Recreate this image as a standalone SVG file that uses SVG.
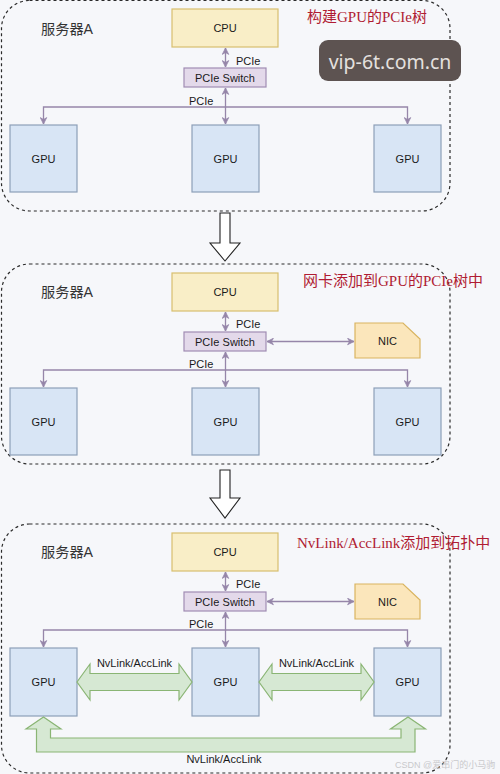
<svg xmlns="http://www.w3.org/2000/svg" width="500" height="774" viewBox="0 0 500 774">
<style>
.panel{fill:none;stroke:#2b2b2b;stroke-width:1.2;stroke-dasharray:3 3}
.cpu{fill:#f9eec7;stroke:#d8bf6e;stroke-width:1.2}
.sw{fill:#e3d9ea;stroke:#a08cb3;stroke-width:1.2}
.gpu{fill:#d8e5f5;stroke:#8d9fb8;stroke-width:1.2}
.nic{fill:#fbe6bb;stroke:#d9b460;stroke-width:1.2}
.t{font-family:"Liberation Sans",Arial,sans-serif;font-size:11px;fill:#1a1a1a}
.tc{text-anchor:middle}
.srv{font-family:"Liberation Sans","Noto Sans CJK SC",sans-serif;font-size:14.2px;fill:#333}
.title{font-family:"Liberation Serif","Noto Sans CJK SC",serif;font-size:15px;fill:#b01c33}
.conn{fill:none;stroke:#9686a9;stroke-width:1.3}
.nv{fill:#d6e8d3;stroke:#8ab574;stroke-width:1.2}
.big{fill:#ffffff;stroke:#222;stroke-width:1.1}
</style>
<defs>
<marker id="ah" viewBox="0 0 10 10" refX="9" refY="5" markerWidth="8" markerHeight="8" orient="auto-start-reverse" markerUnits="userSpaceOnUse">
<path d="M1,1 L9,5 L1,9 L3.5,5 Z" fill="#9686a9" stroke="#9686a9" stroke-width="1"/>
</marker>
</defs>
<rect width="500" height="774" fill="#f6f7fa"/>

<!-- Panel 1 -->
<g id="panel1">
<rect class="panel" x="1.5" y="0.5" width="448.5" height="210.5" rx="28"/>
<text class="srv" x="41" y="34">服务器A</text>
<text class="title" x="307" y="22">构建GPU的PCIe树</text>
</g>
<g id="p1-cpu"><rect class="cpu" x="172" y="9" width="106" height="38"/><text class="t tc" x="225" y="32">CPU</text></g>
<g id="p1-switch"><rect class="sw" x="184" y="68" width="82" height="19"/><text class="t tc" x="225" y="81.5" font-size="11.5">PCIe Switch</text></g>
<g id="p1-gpu1"><rect class="gpu" x="10" y="125" width="67" height="67"/><text class="t tc" x="43.5" y="162.5">GPU</text></g>
<g id="p1-gpu2"><rect class="gpu" x="192" y="125" width="67" height="67"/><text class="t tc" x="225.5" y="162.5">GPU</text></g>
<g id="p1-gpu3"><rect class="gpu" x="374" y="125" width="67" height="67"/><text class="t tc" x="407.5" y="162.5">GPU</text></g>
<g id="p1-connectors">
<line class="conn" x1="225.5" y1="48" x2="225.5" y2="67" marker-start="url(#ah)" marker-end="url(#ah)"/>
<path class="conn" d="M43.5,124 V107 H407.5 V124" marker-start="url(#ah)" marker-end="url(#ah)"/>
<line class="conn" x1="225.5" y1="88" x2="225.5" y2="124" marker-start="url(#ah)" marker-end="url(#ah)"/>
<text class="t" x="236" y="65">PCIe</text>
<text class="t" x="189" y="105">PCIe</text>
</g>
<g id="watermark">
<rect x="319" y="40" width="142" height="41" rx="9" fill="#5d5351"/>
<text x="390" y="69" text-anchor="middle" font-family="'Noto Sans','Open Sans',sans-serif" font-size="19.5" fill="#e4e0df">vip-6t.com.cn</text>
</g>

<!-- Arrow 1 -->
<g id="step-arrow1"><path class="big" d="M220,213 H230 V243 H240 L225,261 L210,243 H220 Z"/></g>

<!-- Panel 2 -->
<g id="panel2">
<rect class="panel" x="1.5" y="264" width="448.5" height="200" rx="28"/>
<text class="srv" x="41" y="297">服务器A</text>
<text class="title" x="303" y="286">网卡添加到GPU的PCIe树中</text>
</g>
<g id="p2-cpu"><rect class="cpu" x="172" y="273" width="106" height="38"/><text class="t tc" x="225" y="296">CPU</text></g>
<g id="p2-switch"><rect class="sw" x="184" y="332" width="82" height="19"/><text class="t tc" x="225" y="345.5" font-size="11.5">PCIe Switch</text></g>
<g id="p2-nic"><path class="nic" d="M355,323 H403 L420,339 V358 H355 Z"/><text class="t tc" x="387.5" y="345">NIC</text></g>
<g id="p2-gpu1"><rect class="gpu" x="10" y="388" width="67" height="67"/><text class="t tc" x="43.5" y="425.5">GPU</text></g>
<g id="p2-gpu2"><rect class="gpu" x="192" y="388" width="67" height="67"/><text class="t tc" x="225.5" y="425.5">GPU</text></g>
<g id="p2-gpu3"><rect class="gpu" x="374" y="388" width="67" height="67"/><text class="t tc" x="407.5" y="425.5">GPU</text></g>
<g id="p2-connectors">
<line class="conn" x1="225.5" y1="312" x2="225.5" y2="331" marker-start="url(#ah)" marker-end="url(#ah)"/>
<line class="conn" x1="267" y1="341.5" x2="354" y2="341.5" marker-start="url(#ah)" marker-end="url(#ah)"/>
<path class="conn" d="M43.5,387 V370 H407.5 V387" marker-start="url(#ah)" marker-end="url(#ah)"/>
<line class="conn" x1="225.5" y1="352" x2="225.5" y2="387" marker-start="url(#ah)" marker-end="url(#ah)"/>
<text class="t" x="236" y="328">PCIe</text>
<text class="t" x="189" y="368">PCIe</text>
</g>

<!-- Arrow 2 -->
<g id="step-arrow2"><path class="big" d="M220,470 H230 V498 H240 L225,518 L210,498 H220 Z"/></g>

<!-- Panel 3 -->
<g id="panel3">
<rect class="panel" x="1.5" y="524" width="448.5" height="249" rx="28"/>
<text class="srv" x="41" y="557">服务器A</text>
<text class="title" x="297" y="548">NvLink/AccLink添加到拓扑中</text>
</g>
<g id="p3-cpu"><rect class="cpu" x="172" y="533" width="106" height="38"/><text class="t tc" x="225" y="556">CPU</text></g>
<g id="p3-switch"><rect class="sw" x="184" y="592" width="82" height="19"/><text class="t tc" x="225" y="605.5" font-size="11.5">PCIe Switch</text></g>
<g id="p3-nic"><path class="nic" d="M355,584 H403 L420,600 V619 H355 Z"/><text class="t tc" x="387.5" y="606">NIC</text></g>
<g id="p3-gpu1"><rect class="gpu" x="10" y="648" width="67" height="68"/><text class="t tc" x="43.5" y="686">GPU</text></g>
<g id="p3-gpu2"><rect class="gpu" x="192" y="648" width="67" height="68"/><text class="t tc" x="225.5" y="686">GPU</text></g>
<g id="p3-gpu3"><rect class="gpu" x="374" y="648" width="67" height="68"/><text class="t tc" x="407.5" y="686">GPU</text></g>
<g id="p3-connectors">
<line class="conn" x1="225.5" y1="572" x2="225.5" y2="591" marker-start="url(#ah)" marker-end="url(#ah)"/>
<line class="conn" x1="267" y1="601.5" x2="354" y2="601.5" marker-start="url(#ah)" marker-end="url(#ah)"/>
<path class="conn" d="M43.5,647 V630 H407.5 V647" marker-start="url(#ah)" marker-end="url(#ah)"/>
<line class="conn" x1="225.5" y1="612" x2="225.5" y2="647" marker-start="url(#ah)" marker-end="url(#ah)"/>
<text class="t" x="236" y="588">PCIe</text>
<text class="t" x="189" y="628">PCIe</text>
<path class="nv" d="M77,682 L90,664 L90,673.5 L179,673.5 L179,664 L192,682 L179,700 L179,690.5 L90,690.5 L90,700 Z"/>
<path class="nv" d="M259,682 L272,664 L272,673.5 L361,673.5 L361,664 L374,682 L361,700 L361,690.5 L272,690.5 L272,700 Z"/>
<path class="nv" d="M43.5,717 L61,729 L50.5,729 L50.5,738 L401,738 L401,729 L390.5,729 L408,717 L425.5,729 L415,729 L415,752 L36.5,752 L36.5,729 L26,729 Z"/>
<text class="t tc" x="134.5" y="667">NvLink/AccLink</text>
<text class="t tc" x="316.5" y="667">NvLink/AccLink</text>
<text class="t tc" x="224" y="763">NvLink/AccLink</text>
</g>
<text x="395" y="768" font-family="'Liberation Sans','Noto Sans CJK SC',sans-serif" font-size="9" fill="#c9c9cc">CSDN @爱串门的小马驹</text>
</svg>
